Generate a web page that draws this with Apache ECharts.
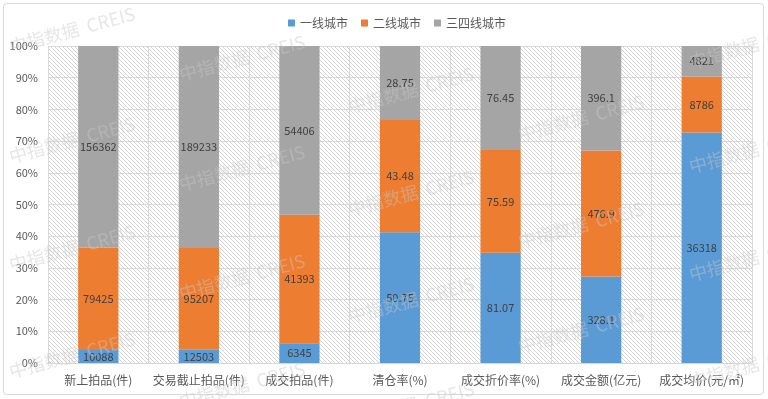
<!DOCTYPE html>
<html>
<head>
<meta charset="utf-8">
<script src="https://cdn.jsdelivr.net/npm/echarts@6/dist/echarts.min.js"></script>
<style>
  html, body { margin: 0; padding: 0; background: #fff; }
  #chart-container { width: 768px; height: 399px; }
</style>
</head>
<body>
<div id="chart-container"></div>
<script>
// categories and raw values per city tier
var categories = ['新上拍品(件)', '交易截止拍品(件)', '成交拍品(件)', '清仓率(%)', '成交折价率(%)', '成交金额(亿元)', '成交均价(元/㎡)'];
var seriesNames = ['一线城市', '二线城市', '三四线城市'];
var tier1 = [10088, 12503, 6345, 50.75, 81.07, 328.1, 36318];
var tier2 = [79425, 95207, 41393, 43.48, 75.59, 476.9, 8786];
var tier3 = [156362, 189233, 54406, 28.75, 76.45, 396.1, 4821];
var yTicks = ['0%', '10%', '20%', '30%', '40%', '50%', '60%', '70%', '80%', '90%', '100%'];

var colors = ['#5B9BD5', '#ED7D31', '#A5A5A5'];
var font = '"Noto Sans CJK SC", "Microsoft YaHei", sans-serif';

// hatch pattern for the plot background
function makeHatch() {
    var s = 4;
    var c = document.createElement('canvas');
    c.width = s; c.height = s;
    var ctx = c.getContext('2d');
    ctx.fillStyle = '#ffffff';
    ctx.fillRect(0, 0, s, s);
    ctx.strokeStyle = '#d4d4d4';
    ctx.lineWidth = 1;
    [-s, 0, s].forEach(function (k) {
        ctx.beginPath();
        ctx.moveTo(k, 0);
        ctx.lineTo(k + s, s);
        ctx.stroke();
    });
    return c;
}

// share of each tier in the column total, raw value kept for the label
function shares(values) {
    return values.map(function (v, i) {
        var total = tier1[i] + tier2[i] + tier3[i];
        return { value: v / total, raw: v };
    });
}

function watermark(x, y) {
    return {
        type: 'text',
        x: x,
        y: y,
        rotation: 15 * Math.PI / 180,
        silent: true,
        z: 100,
        style: {
            text: '中指数据  CREIS',
            fill: 'rgba(200,200,200,0.45)',
            font: '18px ' + font,
            align: 'center',
            verticalAlign: 'middle'
        }
    };
}

var marks = [
    [72, 30], [72, 140], [72, 248], [72, 355],
    [242, 58], [242, 168], [242, 277], [242, 385],
    [411, 90], [411, 193], [411, 300], [411, 405],
    [581, 118], [581, 225], [581, 330],
    [752, 45], [752, 150], [752, 258], [752, 365]
];

var dom = document.getElementById('chart-container');
var myChart = echarts.init(dom, null, { renderer: 'canvas' });

var allData = [tier1, tier2, tier3];

var option = {
    animation: false,
    backgroundColor: '#ffffff',
    color: colors,
    legend: {
        top: 12,
        left: 283,
        icon: 'rect',
        itemWidth: 7,
        itemHeight: 7,
        itemGap: 13,
        textStyle: { fontFamily: font, fontSize: 12, color: '#595959' },
        data: seriesNames
    },
    grid: {
        left: 48,
        right: 16,
        top: 46,
        bottom: 36,
        show: true,
        borderWidth: 0,
        backgroundColor: { image: makeHatch(), repeat: 'repeat' }
    },
    xAxis: {
        type: 'category',
        data: categories,
        axisLine: { lineStyle: { color: '#D9D9D9' } },
        axisTick: { show: false },
        axisLabel: { fontFamily: font, fontSize: 12, color: '#595959', margin: 11, interval: 0 },
        splitLine: { show: true, interval: 0, lineStyle: { color: '#D9D9D9' } }
    },
    yAxis: {
        type: 'value',
        min: 0,
        max: 1,
        interval: 0.1,
        axisLine: { show: false },
        axisTick: { show: false },
        axisLabel: {
            fontFamily: font, fontSize: 11, color: '#595959', margin: 10,
            formatter: function (v) { return yTicks[Math.round(v * 10)]; }
        },
        splitLine: { lineStyle: { color: '#D9D9D9' } }
    },
    series: allData.map(function (arr, i) {
        return {
            name: seriesNames[i],
            type: 'bar',
            stack: 'total',
            barWidth: '40%',
            data: shares(arr),
            label: {
                show: true,
                position: 'inside',
                fontFamily: font,
                fontSize: 11,
                color: '#404040',
                formatter: function (p) { return String(p.data.raw); }
            }
        };
    }),
    graphic: [{
        type: 'rect',
        silent: true,
        z: 50,
        shape: { x: 3.5, y: 3.5, width: 760, height: 391, r: 3 },
        style: { fill: 'none', stroke: '#D9D9D9', lineWidth: 1 }
    }].concat(marks.map(function (m) { return watermark(m[0], m[1]); }))
};

if (option && typeof option === 'object') {
    myChart.setOption(option);
}

window.addEventListener('resize', myChart.resize);
</script>
</body>
</html>
